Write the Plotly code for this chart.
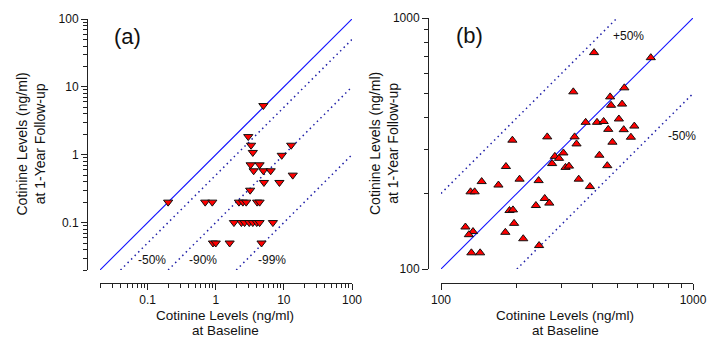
import numpy as np
import plotly.graph_objects as go

# ---------------- data ----------------
# Panel (a): baseline vs 1-year follow-up (ng/ml)
a_base = [0.2, 5.0, 3.0, 3.3, 3.5, 12.8, 9.3, 3.25, 4.4, 3.6, 5.0, 6.4, 13.5, 5.1, 8.6, 3.2,
          0.70, 0.89, 2.19, 2.5, 2.8, 4.05, 4.4,
          1.85, 2.38, 2.65, 3.1, 3.5, 4.0, 4.4, 6.9,
          0.91, 1.0, 1.6, 4.7]
a_follow = [0.2, 5.3, 1.85, 1.38, 1.08, 1.38, 0.98, 0.71, 0.71, 0.58, 0.58, 0.58, 0.50, 0.39, 0.39, 0.30,
            0.2, 0.2, 0.2, 0.2, 0.2, 0.2, 0.2,
            0.1, 0.1, 0.1, 0.1, 0.1, 0.1, 0.1, 0.1,
            0.05, 0.05, 0.05, 0.05]

# Panel (b)
b_base = [405, 680, 335, 534, 469, 473, 523, 375, 416, 442, 508, 461, 531, 585, 567, 479,
          339, 345, 264, 192, 425, 457, 283, 294, 306, 276, 312, 322, 352, 390,
          181, 205, 244, 169, 145, 131, 136, 258, 238, 269, 187, 193, 195, 180, 212, 245,
          125, 134, 129, 132, 143]
b_follow = [728, 695, 508, 527, 485, 449, 454, 384, 384, 387, 396, 360, 359, 371, 335, 320,
            336, 315, 336, 326, 284, 258, 281, 276, 290, 263, 254, 257, 228, 213,
            256, 228, 225, 216, 223, 203, 203, 191, 179, 183, 171, 172, 152, 140, 132, 124,
            147, 141, 137, 116, 116]

# reference lines (x endpoints, ratio)
a_identity_x = [0.02, 100]
a_ref_lines = {"-50%": (0.5, [0.04, 100]), "-90%": (0.1, [0.2, 100]), "-99%": (0.01, [2, 100])}
b_identity_x = [100, 1000]
b_ref_lines = {"+50%": (2.0, [100, 500]), "-50%": (0.5, [200, 1000])}

# tick labels
a_ticks = [0.1, 1, 10, 100]
a_ticktext = ["0.1", "1", "10", "100"]
a_minor = [m * 10.0 ** e for e in (-2, -1, 0, 1) for m in range(2, 10)]
b_ticks = [100, 1000]
b_ticktext = ["100", "1000"]
b_minor = [m * 100 for m in range(2, 10)]

# ---------------- figure ----------------
W, H = 709, 338
FONT = "Arial, Liberation Sans, sans-serif"
BLUE = "#1414ff"
DOTBLUE = "#2020a8"
AXC = "#222222"

def px_x(p):
    return p / W

def px_y(p):
    return 1 - p / H

fig = go.Figure()

# panel (a)
fig.add_trace(go.Scatter(x=a_identity_x, y=a_identity_x, mode="lines",
                         line=dict(color=BLUE, width=1.1), xaxis="x", yaxis="y", hoverinfo="skip"))
for name, (r, xs) in a_ref_lines.items():
    fig.add_trace(go.Scatter(x=xs, y=[v * r for v in xs], mode="lines",
                             line=dict(color=DOTBLUE, width=1.5, dash="1.5px,3.5px"),
                             xaxis="x", yaxis="y", hoverinfo="skip"))
fig.add_trace(go.Scatter(x=a_base, y=a_follow, mode="markers",
                         marker=dict(symbol="triangle-down", size=8, color="#ff0000",
                                     line=dict(color="#111111", width=1)),
                         xaxis="x", yaxis="y"))

# panel (b)
fig.add_trace(go.Scatter(x=b_identity_x, y=b_identity_x, mode="lines",
                         line=dict(color=BLUE, width=1.1), xaxis="x2", yaxis="y2", hoverinfo="skip"))
for name, (r, xs) in b_ref_lines.items():
    fig.add_trace(go.Scatter(x=xs, y=[v * r for v in xs], mode="lines",
                             line=dict(color=DOTBLUE, width=1.5, dash="1.5px,3.5px"),
                             xaxis="x2", yaxis="y2", hoverinfo="skip"))
fig.add_trace(go.Scatter(x=b_base, y=b_follow, mode="markers",
                         marker=dict(symbol="triangle-up", size=8, color="#ff0000",
                                     line=dict(color="#111111", width=1)),
                         xaxis="x2", yaxis="y2"))

def axis(rng, dom, pos, ticks, text, minor):
    return dict(type="log", range=rng, domain=dom, anchor="free", position=pos,
                showline=True, linecolor=AXC, linewidth=1, mirror=False,
                ticks="outside", ticklen=6, tickwidth=1, tickcolor=AXC,
                tickmode="array", tickvals=ticks, ticktext=text,
                minor=dict(tickmode="array", tickvals=minor, ticks="outside",
                           ticklen=4, tickwidth=1, tickcolor=AXC, showgrid=False),
                showgrid=False, zeroline=False, automargin=False, fixedrange=True,
                tickfont=dict(family=FONT, size=12, color="#111111"))

layout = dict(
    width=W, height=H, margin=dict(l=0, r=0, t=0, b=0),
    paper_bgcolor="white", plot_bgcolor="white", showlegend=False, hovermode=False,
    font=dict(family=FONT, size=12, color="#111111"),
    xaxis=axis([np.log10(0.02), 2], [px_x(100), px_x(352)], px_y(283), a_ticks, a_ticktext, a_minor),
    yaxis=axis([np.log10(0.02), 2], [px_y(270), px_y(19)], px_x(87), a_ticks, a_ticktext, a_minor),
    xaxis2=axis([2, 3], [px_x(441), px_x(693)], px_y(283), b_ticks, b_ticktext, b_minor),
    yaxis2=axis([2, 3], [px_y(269), px_y(18)], px_x(428), b_ticks, b_ticktext, b_minor),
)
fig.update_layout(**layout)

ann = []
# reference line labels
for txt, xv, yv in [("-50%", 0.116, 0.028), ("-90%", 0.65, 0.028), ("-99%", 6.6, 0.028)]:
    ann.append(dict(x=np.log10(xv), y=np.log10(yv), xref="x", yref="y", text=txt,
                    showarrow=False, font=dict(family=FONT, size=12, color="#111111")))
for txt, xv, yv in [("+50%", 557, 847), ("-50%", 904, 339)]:
    ann.append(dict(x=np.log10(xv), y=np.log10(yv), xref="x2", yref="y2", text=txt,
                    showarrow=False, font=dict(family=FONT, size=12, color="#111111")))
# panel letters
ann.append(dict(x=np.log10(0.0515), y=np.log10(55), xref="x", yref="y", text="(a)",
                showarrow=False, font=dict(family=FONT, size=22, color="#111111")))
ann.append(dict(x=np.log10(130), y=np.log10(850), xref="x2", yref="y2", text="(b)",
                showarrow=False, font=dict(family=FONT, size=22, color="#111111")))
# axis titles
ytitle = "Cotinine Levels (ng/ml)<br>at 1-Year Follow-up"
for xc in (30.5, 384):
    ann.append(dict(x=px_x(xc), y=px_y(144), xref="paper", yref="paper", text=ytitle,
                    textangle=-90, showarrow=False, xanchor="center", yanchor="middle",
                    font=dict(family=FONT, size=14, color="#111111")))
for xc in (225, 565):
    ann.append(dict(x=px_x(xc), y=px_y(315.5), xref="paper", yref="paper",
                    text="Cotinine Levels (ng/ml)", borderpad=0,
                    showarrow=False, xanchor="center", yanchor="middle",
                    font=dict(family=FONT, size=13.5, color="#111111")))
    ann.append(dict(x=px_x(xc), y=px_y(330.5), xref="paper", yref="paper",
                    text="at Baseline", borderpad=0,
                    showarrow=False, xanchor="center", yanchor="middle",
                    font=dict(family=FONT, size=13.5, color="#111111")))
fig.update_layout(annotations=ann)

fig.write_html("out.html", config={"displayModeBar": False, "staticPlot": True},
               post_script="document.body.style.margin='0';document.body.style.padding='0';"
                           "document.body.style.overflow='hidden';")
